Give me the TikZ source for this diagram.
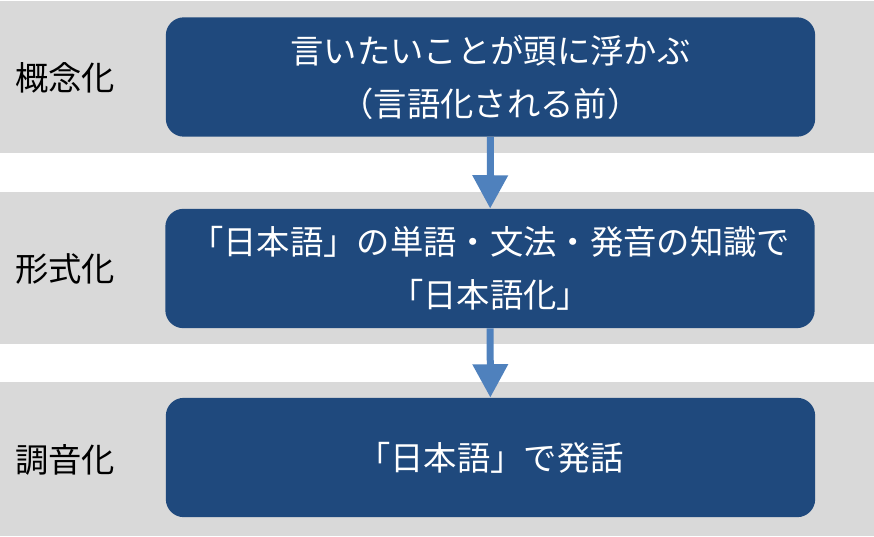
\documentclass[tikz,border=0pt]{standalone}
\usepackage{fontspec}
\setmainfont{Noto Sans CJK JP}
\usetikzlibrary{arrows.meta}

\definecolor{bandgray}{HTML}{D9D9D9}
\definecolor{boxblue}{HTML}{1F497D}
\definecolor{arrowblue}{HTML}{4F81BD}

\tikzset{
	stagebox/.style={fill=boxblue, rounded corners=13.5pt, minimum width=487pt, minimum height=89.5pt,
		text=white, align=center, font=\fontsize{25}{39.75}\selectfont, inner sep=0pt},
	stagelabel/.style={anchor=west, inner sep=0pt, font=\fontsize{25}{30}\selectfont},
	flowarrow/.style={draw=arrowblue, line width=5.25pt, -{Triangle[width=25.5pt,length=25pt]}}
}

\begin{document}
\begin{tikzpicture}[x=0.75pt, y=-0.75pt]
	\useasboundingbox (0,0) rectangle (874,536);
	
	\fill[bandgray] (0,1) rectangle (874,153);
	\fill[bandgray] (0,192) rectangle (874,344);
	\fill[bandgray] (0,382) rectangle (874,536);
	
	\node[stagelabel] (l1) at (15,78) {概念化};
	\node[stagelabel] (l2) at (15,269) {形式化};
	\node[stagelabel] (l3) at (15,460) {調音化};
	
	\node[stagebox] (b1) at (490.5,77) {言いたいことが頭に浮かぶ\\（言語化される前）};
	\node[stagebox] (b2) at (490,268.5) {「日本語」の単語・文法・発音の知識で\\「日本語化」};
	\node[stagebox] (b3) at (490.5,457.5) {「日本語」で発話};
	
	\draw[flowarrow] (b1) -- (b2);
	\draw[flowarrow] (b2) -- (b3);
\end{tikzpicture}
\end{document}
